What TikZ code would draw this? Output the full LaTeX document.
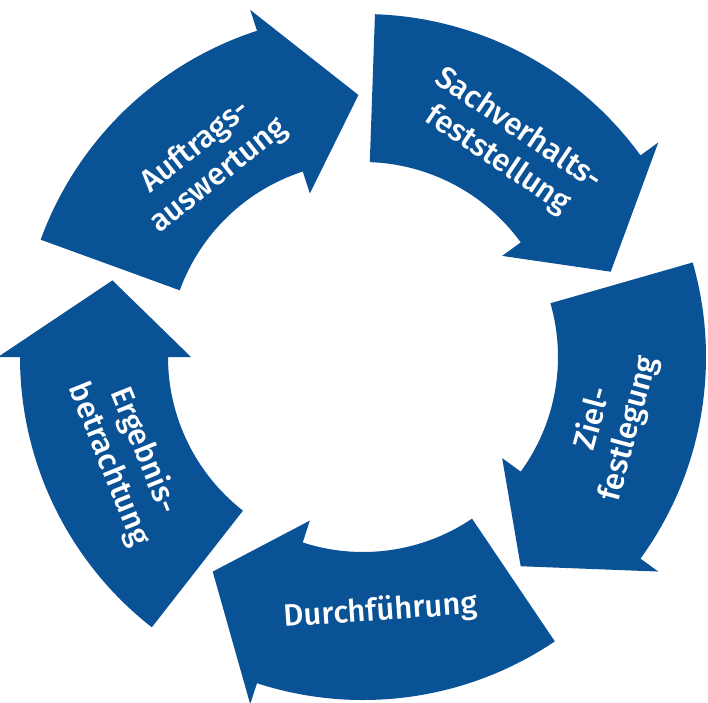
\documentclass[tikz,border=0pt]{standalone}
\usepackage{fontspec}
\setmainfont{Fira Sans}[UprightFont=* Medium]
\definecolor{segblue}{RGB}{10,82,150}
\begin{document}
\begin{tikzpicture}[x=1pt,y=1pt,
  seglabel/.style={text=white,font=\fontsize{31}{37}\selectfont,align=center,inner sep=0pt}]
\useasboundingbox (-363,-345) rectangle (345,357);
\def\Ri{195}\def\Ro{343}
\foreach \s in {88,16,-56,-128,-200}{
  \pgfmathsetmacro\b{\s-52}
  \pgfmathsetmacro\t{\s-69}
  \fill[segblue] (\s:\Ri) -- (\s:\Ro) arc[start angle=\s,end angle=\b,radius=\Ro]
    -- (\b:365) -- (\t:262) -- (\b:172) -- (\b:\Ri)
    arc[start angle=\b,end angle=\s,radius=\Ri] -- cycle;
}
\node[seglabel,rotate=-34] (s1) at (55.6:257) {Sachverhalts-\\feststellung};
\node[seglabel,rotate=75] (s2) at (-15:257) {Ziel-\\festlegung};
\node[seglabel,rotate=4] (s3) at (-86:255) {Durchführung};
\node[seglabel,rotate=-68] (s4) at (-157:257) {Ergebnis-\\betrachtung};
\node[seglabel,rotate=38.5] (s5) at (128.5:250) {Auftrags-\\auswertung};
\end{tikzpicture}
\end{document}
